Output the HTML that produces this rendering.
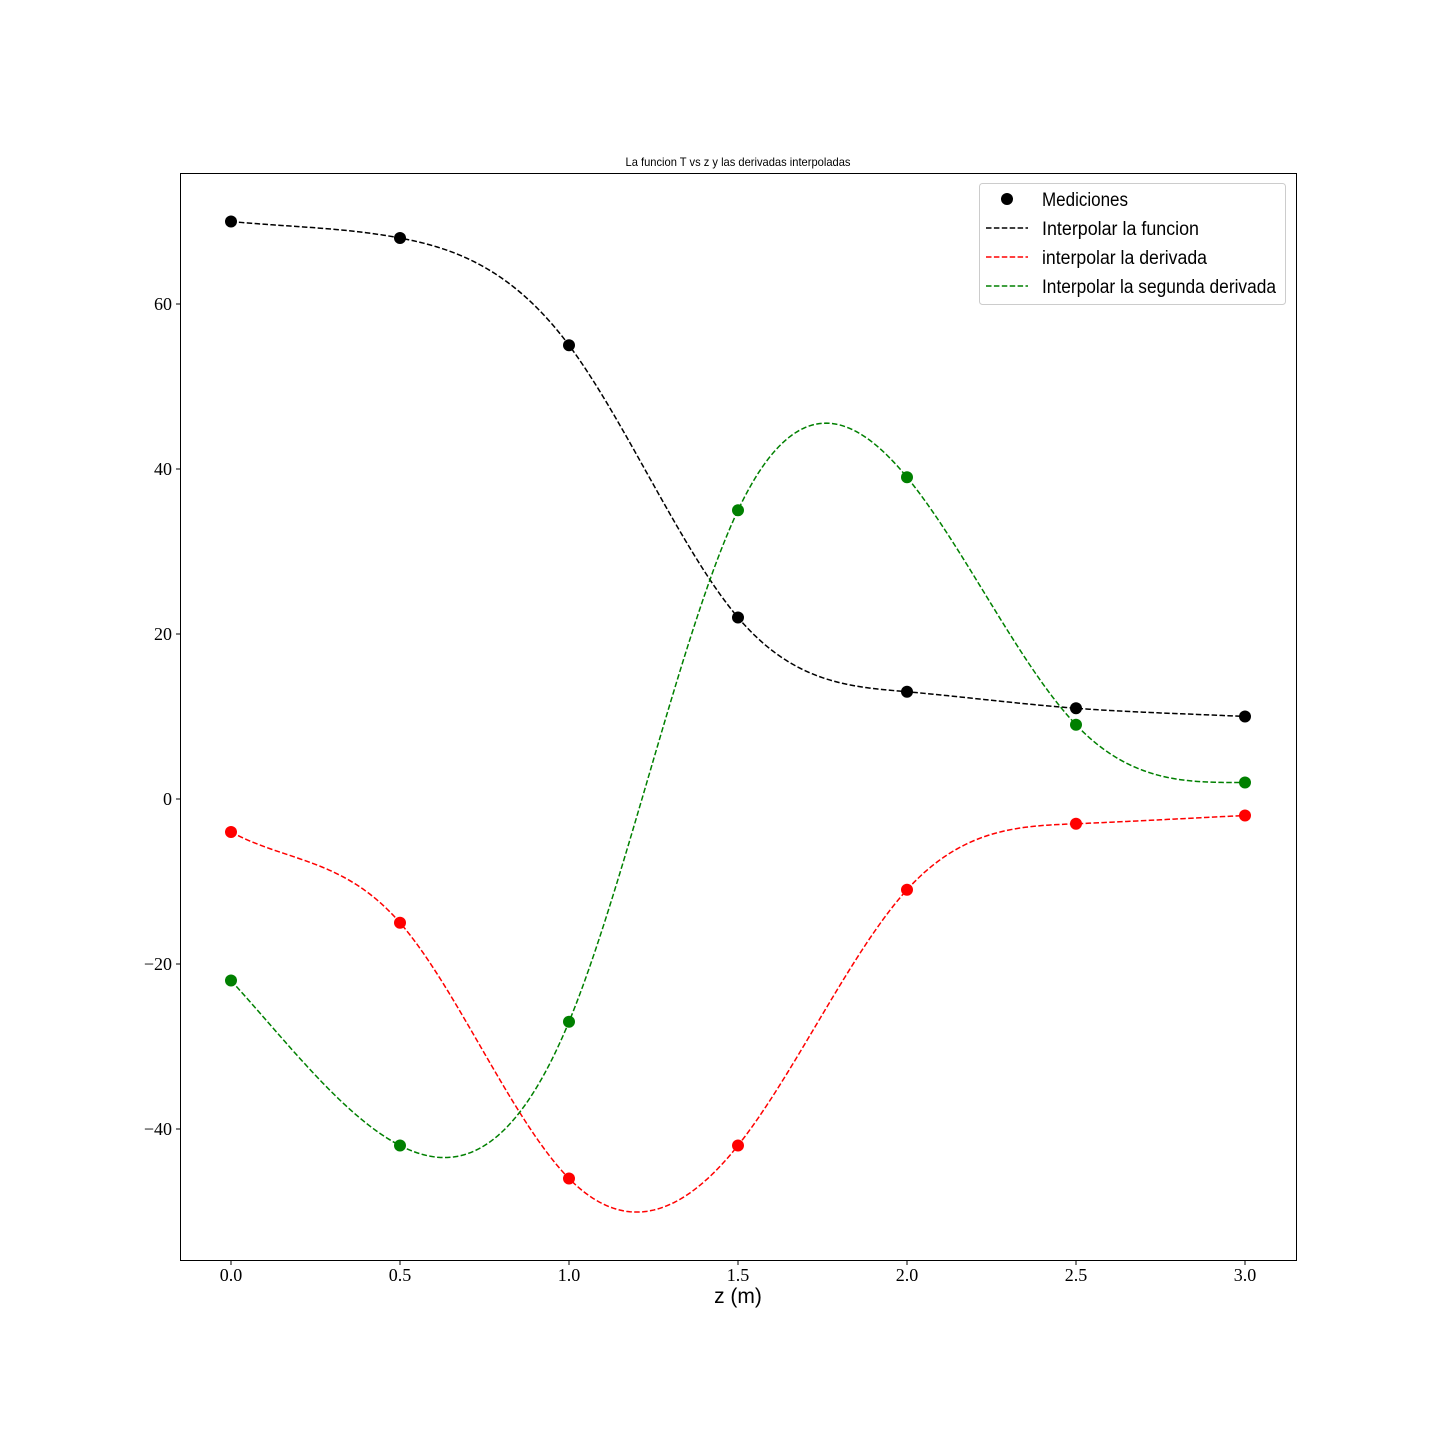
<!DOCTYPE html>
<html><head><meta charset="utf-8"><style>
html,body{margin:0;padding:0;background:#fff;}
svg{display:block;}
.tick{font-family:"Liberation Serif",serif;font-size:18px;fill:#000;}
.leg{font-family:"Liberation Sans",sans-serif;font-size:19px;fill:#000;}
</style></head><body>
<svg id="chart" width="1440" height="1440" xmlns="http://www.w3.org/2000/svg">
<rect x="0" y="0" width="1440" height="1440" fill="#fff"/>
<g id="plot"></g>
<rect x="180.5" y="173.5" width="1116" height="1087" fill="none" stroke="#000" stroke-width="1"/>
<g id="ticks"></g>
<text x="738" y="166" text-anchor="middle" font-family="Liberation Sans, sans-serif" font-size="12" textLength="225" lengthAdjust="spacingAndGlyphs">La funcion T vs z y las derivadas interpoladas</text>
<text x="738" y="1303" text-anchor="middle" font-family="Liberation Sans, sans-serif" font-size="21">z (m)</text>
<g>
<rect x="979.5" y="183.5" width="306" height="121" rx="3" fill="#fff" stroke="#ccc" stroke-width="1"/>
<g><circle cx="1007" cy="199" r="6" fill="#000"/><text class="leg" x="1042" y="206" textLength="86" lengthAdjust="spacingAndGlyphs">Mediciones</text></g>
<g><line x1="986" y1="228" x2="1028" y2="228" stroke="#000" stroke-width="1.5" stroke-dasharray="5.5,2.4"/><text class="leg" x="1042" y="235" textLength="157" lengthAdjust="spacingAndGlyphs">Interpolar la funcion</text></g>
<g><line x1="986" y1="257" x2="1028" y2="257" stroke="red" stroke-width="1.5" stroke-dasharray="5.5,2.4"/><text class="leg" x="1042" y="264" textLength="165" lengthAdjust="spacingAndGlyphs">interpolar la derivada</text></g>
<g><line x1="986" y1="286" x2="1028" y2="286" stroke="green" stroke-width="1.5" stroke-dasharray="5.5,2.4"/><text class="leg" x="1042" y="293" textLength="234" lengthAdjust="spacingAndGlyphs">Interpolar la segunda derivada</text></g>
</g>
</svg>
<script>
const zValues = [0, 0.5, 1.0, 1.5, 2.0, 2.5, 3.0];
const tValues = [70, 68, 55, 22, 13, 11, 10];
const dValues = [-4, -15, -46, -42, -11, -3, -2];
const d2Values = [-22, -42, -27, 35, 39, 9, 2];
const tEndSlopes = [-4, -2];
const dEndSlopes = [-22, 2];
const d2EndSlopes = [-45, 0];
const xTicks = [0, 0.5, 1.0, 1.5, 2.0, 2.5, 3.0];
const xTickLabels = ["0.0","0.5","1.0","1.5","2.0","2.5","3.0"];
const yTicks = [-40, -20, 0, 20, 40, 60];
const yTickLabels = ["\u221240","\u221220","0","20","40","60"];

const X = v => 231 + v * 338;
const Y = v => 799 - v * 8.25;
const NS = "http://www.w3.org/2000/svg";

function spline(xs, ys, ends) {
  const n = xs.length, h = xs[1]-xs[0];
  const A = [], b = [];
  for (let i=0;i<n;i++){A.push(new Array(n).fill(0));b.push(0);}
  A[0][0]=2*h;A[0][1]=h;b[0]=6*((ys[1]-ys[0])/h-ends[0]);
  A[n-1][n-1]=2*h;A[n-1][n-2]=h;b[n-1]=6*(ends[1]-(ys[n-1]-ys[n-2])/h);
  for (let i=1;i<n-1;i++){A[i][i-1]=h;A[i][i]=4*h;A[i][i+1]=h;b[i]=6*(ys[i+1]-2*ys[i]+ys[i-1])/h;}
  for (let c=0;c<n;c++){
    let p=c;for(let r=c+1;r<n;r++) if(Math.abs(A[r][c])>Math.abs(A[p][c])) p=r;
    [A[c],A[p]]=[A[p],A[c]];[b[c],b[p]]=[b[p],b[c]];
    for(let r=0;r<n;r++){ if(r===c) continue; const f=A[r][c]/A[c][c]; for(let k=c;k<n;k++) A[r][k]-=f*A[c][k]; b[r]-=f*b[c];}
  }
  const M = b.map((v,i)=>v/A[i][i]);
  return x => {
    let i=Math.min(n-2,Math.max(0,Math.floor((x-xs[0])/h)));
    const a=xs[i+1]-x, t=x-xs[i];
    return M[i]*a*a*a/(6*h)+M[i+1]*t*t*t/(6*h)+(ys[i]/h-M[i]*h/6)*a+(ys[i+1]/h-M[i+1]*h/6)*t;
  };
}

const plot = document.getElementById('plot');
function drawSeries(ys, ends, color, name) {
  const f = spline(zValues, ys, ends);
  let d = "";
  for (let k=0;k<=300;k++){const x=3*k/300; d += (k?"L":"M")+X(x).toFixed(2)+","+Y(f(x)).toFixed(2);}
  const p = document.createElementNS(NS,'path');
  
  
  p.setAttribute('d', d); p.setAttribute('fill','none'); p.setAttribute('stroke',color);
  p.setAttribute('stroke-width','1.5'); p.setAttribute('stroke-dasharray','5.5,2.4');
  plot.appendChild(p);
  ys.forEach((v,i)=>{
    const c = document.createElementNS(NS,'circle');
    
    
    c.setAttribute('cx', X(zValues[i])); c.setAttribute('cy', Y(v)); c.setAttribute('r', 6); c.setAttribute('fill', color);
    plot.appendChild(c);
  });
}
drawSeries(tValues, tEndSlopes, '#000', 'funcion');
drawSeries(dValues, dEndSlopes, 'red', 'derivada');
drawSeries(d2Values, d2EndSlopes, 'green', 'segunda-derivada');

const tg = document.getElementById('ticks');
xTicks.forEach((v,i)=>{
  const l = document.createElementNS(NS,'line');
  
  
  l.setAttribute('x1',X(v));l.setAttribute('x2',X(v));l.setAttribute('y1',1261);l.setAttribute('y2',1265);l.setAttribute('stroke','#000');
  tg.appendChild(l);
  const t = document.createElementNS(NS,'text');
  
  
  t.setAttribute('class','tick');t.setAttribute('x',X(v));t.setAttribute('y',1281);t.setAttribute('text-anchor','middle');
  t.textContent = xTickLabels[i]; tg.appendChild(t);
});
yTicks.forEach((v,i)=>{
  const l = document.createElementNS(NS,'line');
  
  
  l.setAttribute('x1',176);l.setAttribute('x2',180);l.setAttribute('y1',Y(v));l.setAttribute('y2',Y(v));l.setAttribute('stroke','#000');
  tg.appendChild(l);
  const t = document.createElementNS(NS,'text');
  
  
  t.setAttribute('class','tick');t.setAttribute('x',172);t.setAttribute('y',Y(v)+6);t.setAttribute('text-anchor','end');
  t.textContent = yTickLabels[i]; tg.appendChild(t);
});
</script>
</body></html>
